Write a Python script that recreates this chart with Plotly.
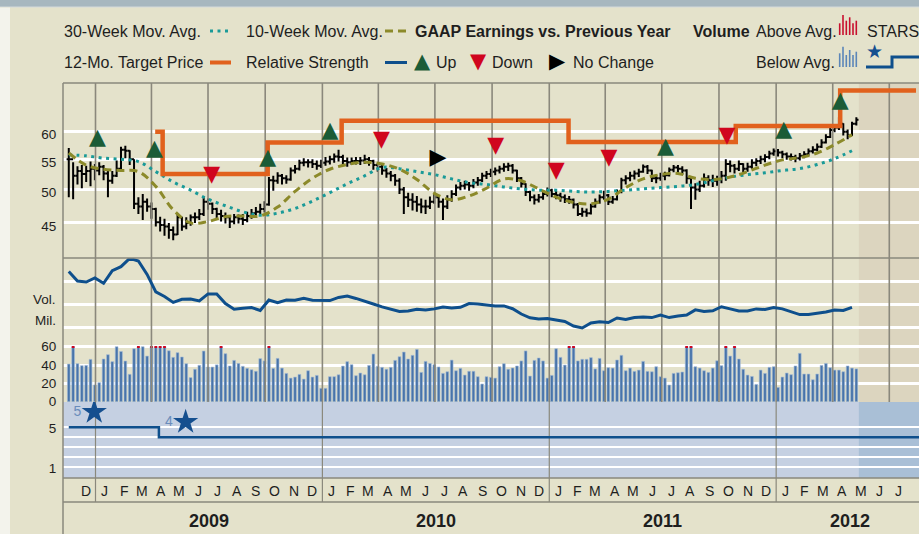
import plotly.graph_objects as go
import pandas as pd

W, H = 919, 534

# ---------------- data ----------------
week_start = "2008-11-19"
n_weeks = 182

close = [55.0, 52.2, 53.0, 52.5, 53.0, 53.4, 53.1, 53.7, 52.6, 51.4,
 52.2, 53.4, 56.7, 56.5, 55.0, 47.8, 47.4, 48.1, 47.4, 47.0,
 45.1, 44.7, 44.5, 44.0, 43.4, 45.8, 44.5, 45.0, 45.8, 45.8,
 46.3, 48.1, 47.8, 47.0, 46.3, 46.0, 45.8, 45.2, 45.8, 45.6,
 45.4, 46.0, 46.4, 46.6, 47.0, 47.7, 51.5, 51.4, 52.2, 51.8,
 51.6, 53.1, 53.4, 54.4, 54.5, 54.5, 54.2, 53.9, 54.4, 54.6,
 55.0, 55.5, 55.4, 54.7, 54.5, 54.7, 54.7, 54.8, 55.0, 54.7,
 54.0, 53.7, 53.1, 52.6, 52.2, 51.4, 50.0, 48.8, 48.4, 48.1,
 47.7, 47.4, 47.4, 48.1, 48.8, 48.1, 47.4, 48.4, 49.3, 50.3,
 50.6, 50.8, 50.6, 51.1, 51.5, 52.2, 52.5, 52.9, 53.1, 53.4,
 53.7, 53.9, 53.1, 51.8, 50.9, 49.6, 48.8, 48.4, 48.8, 49.3,
 49.9, 49.3, 49.1, 48.8, 48.5, 48.4, 47.7, 46.3, 46.6, 46.4,
 47.4, 48.1, 48.8, 49.1, 48.1, 48.5, 49.6, 51.5, 51.8, 52.2,
 52.6, 52.9, 53.7, 53.1, 51.8, 51.8, 52.2, 52.3, 53.2, 53.6,
 53.4, 53.1, 51.8, 50.3, 50.0, 50.6, 51.8, 51.5, 51.4, 51.6,
 52.2, 54.2, 53.9, 53.4, 54.2, 53.4, 53.7, 54.4, 54.7, 55.0,
 55.4, 56.0, 56.4, 56.2, 55.9, 55.5, 55.4, 55.2, 55.6, 55.9,
 56.4, 56.7, 57.2, 58.0, 59.0, 60.3, 60.8, 61.5, 60.0, 59.3,
 61.5, 62.3]

high = [57.0, 54.5, 53.8, 54.0, 53.9, 54.6, 54.2, 54.5, 54.0, 53.2,
 53.0, 54.8, 57.2, 57.4, 56.6, 55.0, 48.8, 49.3, 48.6, 48.0,
 47.2, 45.9, 45.6, 45.0, 44.5, 46.4, 45.9, 45.8, 46.2, 46.5,
 47.0, 48.8, 48.6, 48.0, 47.2, 46.9, 46.5, 46.0, 46.3, 46.2,
 46.3, 46.6, 47.0, 47.3, 47.8, 48.2, 52.0, 52.2, 52.8, 52.5,
 52.3, 53.6, 54.0, 54.9, 55.2, 55.0, 55.0, 54.8, 54.9, 55.4,
 55.6, 56.0, 56.7, 55.8, 55.3, 55.3, 55.4, 55.4, 55.8, 55.4,
 54.9, 54.4, 54.0, 53.5, 53.0, 52.5, 51.8, 50.4, 49.5, 49.4,
 49.0, 48.6, 48.4, 48.9, 49.5, 49.0, 48.6, 49.1, 49.9, 50.8,
 51.2, 51.4, 51.2, 51.7, 52.0, 52.7, 53.0, 53.4, 53.6, 53.9,
 54.3, 54.4, 54.2, 53.2, 52.0, 51.0, 49.8, 49.2, 49.3, 49.8,
 50.3, 50.1, 49.8, 49.5, 49.2, 49.0, 48.6, 47.9, 47.2, 47.1,
 47.8, 48.6, 49.2, 49.8, 49.3, 49.0, 50.0, 51.9, 52.3, 52.9,
 53.1, 53.4, 54.1, 54.0, 53.2, 52.4, 52.7, 52.9, 53.6, 54.0,
 54.0, 53.8, 53.3, 51.9, 51.0, 51.4, 52.6, 52.3, 52.4, 52.2,
 53.0, 55.0, 54.8, 54.2, 54.8, 54.3, 54.4, 55.0, 55.2, 55.6,
 55.9, 56.5, 56.9, 56.8, 56.5, 56.2, 56.0, 55.8, 56.1, 56.4,
 56.9, 57.3, 57.8, 58.6, 59.5, 60.8, 61.4, 62.8, 61.6, 60.4,
 61.9, 62.8]

low = [48.8, 48.5, 50.8, 50.2, 51.2, 50.5, 51.5, 52.3, 51.5, 48.8,
 50.9, 52.0, 53.0, 55.2, 54.0, 47.0, 46.3, 45.4, 46.6, 45.6,
 44.5, 43.8, 43.2, 42.8, 42.6, 43.3, 43.9, 44.1, 44.6, 45.0,
 45.4, 46.0, 46.9, 46.3, 45.6, 45.2, 44.9, 44.3, 44.8, 44.9,
 44.7, 45.1, 45.6, 45.9, 46.2, 46.5, 47.5, 49.8, 50.9, 50.8,
 50.9, 51.4, 52.6, 53.1, 53.8, 53.6, 53.5, 53.2, 53.5, 53.9,
 54.1, 54.4, 54.6, 53.9, 53.7, 54.0, 54.1, 54.0, 54.2, 53.9,
 53.2, 52.9, 52.4, 51.9, 51.3, 50.6, 49.3, 46.3, 47.3, 46.8,
 46.6, 46.4, 46.3, 47.0, 47.8, 47.2, 45.4, 47.0, 48.1, 49.0,
 49.9, 50.0, 49.8, 50.2, 50.6, 51.2, 51.7, 52.0, 52.3, 52.6,
 52.9, 53.0, 52.6, 51.2, 50.3, 49.0, 48.2, 47.7, 48.0, 48.4,
 48.9, 48.8, 48.5, 48.1, 47.9, 47.8, 47.1, 46.0, 45.9, 45.9,
 46.2, 47.2, 47.8, 48.4, 47.6, 47.8, 48.3, 49.4, 50.8, 51.3,
 51.6, 52.0, 52.7, 52.5, 51.2, 51.0, 51.4, 51.5, 52.1, 52.8,
 52.7, 52.4, 50.9, 47.0, 48.4, 49.6, 50.3, 50.6, 50.4, 50.6,
 51.0, 51.4, 52.8, 52.6, 53.0, 52.6, 52.9, 53.4, 53.8, 54.2,
 54.5, 55.0, 55.6, 55.5, 55.2, 54.9, 54.8, 54.5, 54.8, 55.2,
 55.6, 56.0, 56.4, 57.0, 57.8, 58.8, 59.9, 60.3, 59.3, 58.6,
 59.2, 61.2]

volume_mil = [41.1, 62, 41.5, 39.3, 39.6, 46.2, 18.3, 20.8, 46.6, 51.3,
 43.7, 60, 54.8, 44.4, 29.9, 57.8, 63, 60, 49.8, 65,
 64, 63, 66, 55.6, 48.4, 53.5, 48.8, 41.5, 26.3, 35.4,
 39.7, 55.3, 37.9, 37.8, 40.2, 61, 52.4, 39.0, 45.1, 41.8,
 38.6, 36.4, 34.9, 33.2, 47.0, 44.5, 61, 36.4, 47.3, 36.7,
 30.9, 25.8, 26.9, 29.8, 24.7, 33.8, 26.9, 28.7, 14.6, 14.6,
 27.3, 27.3, 29.4, 38.9, 43.7, 40.4, 28.4, 31.3, 29.4, 39.6,
 52.0, 38.6, 37.5, 35.4, 37.5, 45.1, 49.1, 54.2, 46.6, 50.6,
 57.1, 32.0, 44.0, 41.8, 40.4, 37.9, 30.9, 32.7, 45.4, 33.8,
 36.4, 29.1, 33.2, 33.2, 27.3, 19.3, 27.3, 26.6, 25.8, 38.2,
 41.5, 35.4, 36.8, 39.0, 44.5, 55.4, 28.0, 45.1, 47.7, 44.5,
 25.8, 28.7, 57.8, 48.4, 40.0, 63, 62, 44.5, 46.3, 46.3,
 48.1, 35.8, 47.3, 33.8, 37.1, 36.7, 45.5, 50.6, 33.8, 36.7,
 33.1, 34.5, 44.0, 33.1, 32.7, 38.2, 27.3, 25.8, 18.2, 30.9,
 31.6, 32.4, 63, 64, 38.2, 36.7, 33.8, 32.0, 36.7, 44.7,
 39.3, 66, 49.8, 62, 46.6, 35.4, 29.1, 27.6, 18.9, 34.5,
 30.9, 37.5, 38.2, 15.6, 26.9, 31.3, 29.5, 39.0, 52.8, 30.2,
 30.2, 24.0, 30.2, 39.6, 41.8, 37.1, 34.5, 34.5, 32.7, 39.0,
 36.7, 35.8]

# relative strength, sampled every 2 weeks
rel_strength = [106.1, 101.3, 100.8, 102.9, 100.2, 106.6, 108.6, 112.8, 111.5, 104.7,
 95.8, 93.5, 90.5, 92.1, 92.2, 91.2, 94.8, 94.8, 89.9, 87.0,
 87.5, 87.9, 86.4, 91.7, 90.4, 91.7, 91.6, 92.6, 91.6, 91.4,
 91.4, 93.0, 93.7, 92.5, 91.2, 89.7, 88.2, 87.2, 85.9, 86.1,
 87.0, 86.6, 87.2, 88.2, 87.7, 88.0, 89.9, 89.7, 89.2, 88.7,
 88.7, 87.3, 84.6, 82.7, 82.1, 82.3, 81.6, 80.8, 78.5, 77.5,
 80.1, 80.7, 80.3, 82.6, 81.8, 82.8, 83.1, 82.8, 84.1, 82.8,
 83.6, 84.1, 86.7, 85.9, 86.2, 88.3, 87.2, 86.1, 86.1, 87.2,
 86.9, 87.9, 87.2, 85.6, 84.3, 84.4, 84.9, 85.6, 86.6, 86.4,
 88.0]

# moving averages, sampled every 4 weeks
ma30 = [55.8, 55.6, 55.2, 55.0, 54.6, 52.9, 51.2, 49.9, 48.5, 47.5,
 46.6, 46.1, 46.4, 47.1, 48.2, 49.5, 50.9, 52.2, 53.6, 53.4,
 52.9, 52.4, 51.7, 51.1, 50.8, 50.4, 50.1, 49.9, 49.9, 49.7,
 49.6, 49.7, 49.9, 50.1, 50.3, 50.5, 50.8, 51.4, 52.0, 52.4,
 52.7, 53.1, 53.4, 54.1, 55.1, 56.5]
ma10 = [56.1, 54.0, 53.3, 53.1, 52.9, 50.5, 46.9, 45.0, 45.2, 45.9,
 46.0, 46.0, 47.3, 49.7, 51.8, 53.3, 54.1, 54.5, 54.2, 53.3,
 51.6, 49.4, 48.4, 49.0, 50.2, 51.7, 51.4, 50.1, 48.8, 48.0,
 47.8, 48.5, 50.3, 51.7, 52.4, 52.6, 51.8, 51.6, 52.0, 52.9,
 54.0, 54.9, 55.3, 56.1, 57.6, 59.4]

target_dates = ["2009-04-07", "2009-04-19", "2009-10-05", "2010-02-01",
                "2011-02-01", "2011-10-28", "2012-04-13", "2012-08-13"]
target_prices = [60.0, 52.5, 58.0, 62.1, 58.1, 61.1, 68.3, 68.3]

up_dates = ["2009-01-04", "2009-04-06", "2009-10-05", "2010-01-13",
            "2011-07-07", "2012-01-13", "2012-04-13"]
up_levels = [58.8, 56.7, 55.2, 60.1, 57.0, 60.2, 66.0]
down_dates = ["2009-07-07", "2010-04-06", "2010-10-07", "2011-01-12",
              "2011-04-07", "2011-10-14"]
down_levels = [52.2, 58.4, 57.3, 52.9, 55.2, 59.1]
nochange_dates = ["2010-07-06"]
nochange_levels = [55.2]

stars_dates = ["2008-11-19", "2009-04-13", "2012-08-17 19:00"]
stars_values = [5, 4, 4]
star_mark_dates = ["2008-12-30", "2009-05-26"]
star_mark_levels = [6.53, 5.53]
star_mark_labels = ["5", "4"]

price_ticks = [45, 50, 55, 60]
vol_ticks = [0, 20, 40, 60]
month_initials = ["J", "F", "M", "A", "M", "J", "J", "A", "S", "O", "N", "D"]
years = ["2009", "2010", "2011", "2012"]
year_label_dates = ["2009-07-02", "2010-07-02", "2011-07-02", "2012-04-28"]

# ---------------- styling ----------------
FONT = "Liberation Sans, Arial, Helvetica, sans-serif"
SYM = "DejaVu Sans"
BG = "#E4E2CB"
FUT = "#DCD5BF"
STARBG = "#C5D0E2"
STARFUT = "#A9BFD6"
VLINE = "#8A887C"
TXT = "#1E1E1E"
ORANGE = "#E1611D"
RSBLUE = "#0E4F8C"
TEAL = "#1A9A98"
OLIVE = "#8C8A2A"
GREEN = "#1B5C37"
RED = "#D0051E"
VBLUE = "#4874AA"
VEDGE = "#A4BCD8"

X_LEFT = "2008-11-09 17:00"
X_RIGHT = "2012-08-17 19:00"
FUTURE_START = "2012-05-13"

dates = pd.date_range(week_start, periods=n_weeks, freq="7D")
open_ = [close[0]] + close[:-1]


def PX(x):
    return x / W


def PY(y):
    return 1 - y / H


fig = go.Figure()

# vertical quarter lines (price + volume panels), yearly lines (stars panel)
q_dates = pd.date_range("2009-01-01", "2012-07-01", freq="QS")
y_dates = pd.date_range("2009-01-01", "2012-01-01", freq="YS")


def vlines(ds, y0, y1):
    xs, ys = [], []
    for d in ds:
        xs += [d, d, None]
        ys += [y0, y1, None]
    return xs, ys


xs, ys = vlines(q_dates, 20, 100)
fig.add_trace(go.Scatter(x=xs, y=ys, mode="lines", yaxis="y",
                         line=dict(color=VLINE, width=1.6), hoverinfo="skip"))
xs, ys = vlines(q_dates, -50, 300)
fig.add_trace(go.Scatter(x=xs, y=ys, mode="lines", yaxis="y2",
                         line=dict(color=VLINE, width=1.6), hoverinfo="skip"))
xs, ys = vlines(y_dates, -5, 20)
fig.add_trace(go.Scatter(x=xs, y=ys, mode="lines", yaxis="y3",
                         line=dict(color=VLINE, width=1.2), hoverinfo="skip"))

# moving averages
fig.add_trace(go.Scatter(x=dates[::4], y=ma30, mode="lines", yaxis="y",
                         line=dict(color=TEAL, width=3, dash="3px,4.5px", shape="spline"),
                         hoverinfo="skip"))
fig.add_trace(go.Scatter(x=dates[::4], y=ma10, mode="lines", yaxis="y",
                         line=dict(color=OLIVE, width=3, dash="8px,5px", shape="spline"),
                         hoverinfo="skip"))

# target price
fig.add_trace(go.Scatter(x=target_dates, y=target_prices, mode="lines", yaxis="y",
                         line=dict(color=ORANGE, width=4.5, shape="hv"), hoverinfo="skip"))

# price bars
fig.add_trace(go.Ohlc(x=dates, open=open_, high=high, low=low, close=close,
                      yaxis="y", tickwidth=0.5,
                      increasing=dict(line=dict(color="black", width=2)),
                      decreasing=dict(line=dict(color="black", width=2)),
                      hoverinfo="skip"))

# GAAP earnings markers
fig.add_trace(go.Scatter(x=up_dates, y=up_levels, mode="text", yaxis="y",
                         text=["▲"] * len(up_dates), textposition="middle center",
                         textfont=dict(family=SYM, size=22, color=GREEN), hoverinfo="skip"))
fig.add_trace(go.Scatter(x=down_dates, y=down_levels, mode="text", yaxis="y",
                         text=["▼"] * len(down_dates), textposition="middle center",
                         textfont=dict(family=SYM, size=22, color=RED), hoverinfo="skip"))
fig.add_trace(go.Scatter(x=nochange_dates, y=nochange_levels, mode="text", yaxis="y",
                         text=["▶"] * len(nochange_dates), textposition="middle center",
                         textfont=dict(family=SYM, size=22, color="black"), hoverinfo="skip"))

# volume
BAR_MS = 4.4 * 86400000
vol_shown = [min(v, 60) for v in volume_mil]
fig.add_trace(go.Bar(x=dates, y=vol_shown, yaxis="y2", width=BAR_MS,
                     marker=dict(color=VBLUE, line=dict(color=VEDGE, width=0.6)),
                     hoverinfo="skip"))
over_dates = [d for d, v in zip(dates, volume_mil) if v > 60]
fig.add_trace(go.Bar(x=over_dates, y=[1.8] * len(over_dates), base=[58.7] * len(over_dates),
                     yaxis="y2", width=BAR_MS, marker=dict(color=RED, line=dict(width=0)),
                     hoverinfo="skip"))

# relative strength
fig.add_trace(go.Scatter(x=dates[::2], y=rel_strength, mode="lines", yaxis="y4",
                         line=dict(color=RSBLUE, width=3), hoverinfo="skip"))

# STARS
fig.add_trace(go.Scatter(x=stars_dates, y=stars_values, mode="lines", yaxis="y3",
                         line=dict(color=RSBLUE, width=2.5, shape="hv"), hoverinfo="skip"))
fig.add_trace(go.Scatter(x=star_mark_dates, y=star_mark_levels, mode="markers+text", yaxis="y3",
                         marker=dict(symbol="star", size=19, color="#154F8F"),
                         text=star_mark_labels, textposition="middle left",
                         textfont=dict(family=FONT, size=14, color="#6A8CBB"),
                         hoverinfo="skip"))

# ---------------- layout ----------------
tickfont = dict(family=FONT, size=13.5, color=TXT)
fig.update_layout(
    width=W, height=H, margin=dict(l=0, r=0, t=0, b=0, pad=0, autoexpand=False),
    paper_bgcolor=BG, plot_bgcolor="rgba(0,0,0,0)", showlegend=False,
    barmode="overlay",
    xaxis=dict(domain=[PX(63), 1], type="date", range=[X_LEFT, X_RIGHT],
               showgrid=False, zeroline=False, showticklabels=False, ticks="",
               showline=False, rangeslider=dict(visible=False), anchor="y3"),
    yaxis=dict(domain=[PY(258), PY(83)], type="log", anchor="x",
               range=[1.60514, 1.84486], tickvals=price_ticks,
               ticktext=[str(v) for v in price_ticks],
               gridcolor="white", gridwidth=3, zeroline=False, showline=False,
               ticks="outside", ticklen=3, tickcolor="rgba(0,0,0,0)", tickfont=tickfont,
               ticklabelshift=3),
    yaxis2=dict(domain=[PY(402), PY(258)], anchor="x", range=[-0.3, 156.8],
                tickvals=vol_ticks + [80.7, 106.3, 130.9],
                ticktext=[str(v) for v in vol_ticks] + ["", "", ""],
                gridcolor="white", gridwidth=2.5, zeroline=False, showline=False,
                ticks="outside", ticklen=3, tickcolor="rgba(0,0,0,0)", tickfont=tickfont),
    yaxis4=dict(overlaying="y2", anchor="x", range=[40, 113], visible=False),
    yaxis3=dict(domain=[PY(478), PY(402)], anchor="x", range=[-0.07, 7.53],
                tickvals=[1, 2, 3, 4, 5], ticktext=["1", "", "", "", "5"],
                gridcolor="white", gridwidth=1.5, zeroline=False, showline=False,
                ticks="outside", ticklen=3, tickcolor="rgba(0,0,0,0)", tickfont=tickfont,
                ticklabelshift=1),
)

shapes = []
# backgrounds
shapes.append(dict(type="rect", xref="paper", yref="paper", x0=0, x1=1, y0=PY(7), y1=1,
                   fillcolor="#A7B7BF", line=dict(width=0), layer="below"))
shapes.append(dict(type="line", xref="paper", yref="paper", x0=0, x1=1, y0=PY(7), y1=PY(7),
                   line=dict(color="#D3DADB", width=1.2), layer="below"))
shapes.append(dict(type="rect", xref="paper", yref="paper", x0=0, x1=PX(10), y0=0, y1=PY(7.5),
                   fillcolor="#F3F3EC", line=dict(width=0), layer="below"))
shapes.append(dict(type="rect", xref="x", yref="paper", x0=FUTURE_START, x1=X_RIGHT,
                   y0=PY(402), y1=PY(83), fillcolor=FUT, line=dict(width=0), layer="below"))
shapes.append(dict(type="rect", xref="paper", yref="paper", x0=PX(63), x1=1,
                   y0=PY(478), y1=PY(402), fillcolor=STARBG, line=dict(width=0), layer="below"))
shapes.append(dict(type="rect", xref="x", yref="paper", x0=FUTURE_START, x1=X_RIGHT,
                   y0=PY(478), y1=PY(402), fillcolor=STARFUT, line=dict(width=0), layer="below"))
# borders
for yy in (83, 258, 478, 502):
    shapes.append(dict(type="line", xref="paper", yref="paper", x0=PX(63), x1=1,
                       y0=PY(yy), y1=PY(yy), line=dict(color=VLINE, width=1.5)))
shapes.append(dict(type="line", xref="paper", yref="paper", x0=PX(63), x1=PX(63),
                   y0=0, y1=PY(83), line=dict(color=VLINE, width=1.5)))
for d in y_dates:
    shapes.append(dict(type="line", xref="x", yref="paper", x0=d, x1=d,
                       y0=PY(502), y1=PY(478), line=dict(color=VLINE, width=1.2)))

# legend icons
shapes.append(dict(type="line", xref="paper", yref="paper", x0=PX(210), x1=PX(231),
                   y0=PY(31), y1=PY(31), line=dict(color=TEAL, width=3, dash="3px,4.5px")))
shapes.append(dict(type="line", xref="paper", yref="paper", x0=PX(385), x1=PX(408),
                   y0=PY(31), y1=PY(31), line=dict(color=OLIVE, width=3, dash="8px,5px")))
shapes.append(dict(type="line", xref="paper", yref="paper", x0=PX(210), x1=PX(231),
                   y0=PY(62.5), y1=PY(62.5), line=dict(color=ORANGE, width=4)))
shapes.append(dict(type="line", xref="paper", yref="paper", x0=PX(385), x1=PX(407),
                   y0=PY(62.5), y1=PY(62.5), line=dict(color=RSBLUE, width=3)))
for bx, top in zip([839.7, 843, 846.3, 849.7, 853, 856.3], [23.3, 15, 20.7, 17.3, 23.3, 20.7]):
    shapes.append(dict(type="rect", xref="paper", yref="paper", x0=PX(bx - 0.8), x1=PX(bx + 0.8),
                       y0=PY(35), y1=PY(top), fillcolor="#C8102E", line=dict(width=0)))
for bx, top in zip([839.7, 843, 846.3, 849.7, 853, 856.3], [53.3, 46.7, 55, 50, 55, 51.7]):
    shapes.append(dict(type="rect", xref="paper", yref="paper", x0=PX(bx - 0.8), x1=PX(bx + 0.8),
                       y0=PY(67), y1=PY(top), fillcolor="#5B86B8", line=dict(width=0)))
shapes.append(dict(type="path", xref="paper", yref="paper",
                   path=f"M{PX(866)},{PY(67)} L{PX(892)},{PY(67)} L{PX(892)},{PY(57)} L{PX(919)},{PY(57)}",
                   line=dict(color=RSBLUE, width=3)))
fig.update_layout(shapes=shapes)

ann = []


def text(t, x, y, size=16, color=TXT, xanchor="left", family=FONT, xref="paper"):
    ann.append(dict(text=t, x=x, y=y, xref=xref, yref="paper", showarrow=False,
                    xanchor=xanchor, yanchor="middle",
                    font=dict(family=family, size=size, color=color)))


# legend texts
text("30-Week Mov. Avg.", PX(62), PY(31))
text("10-Week Mov. Avg.", PX(244), PY(31))
text("<b>GAAP Earnings vs. Previous Year</b>", PX(413), PY(31))
text("<b>Volume</b>", PX(691), PY(31))
text("Above Avg.", PX(754), PY(31))
text("STARS", PX(865), PY(31))
text("12-Mo. Target Price", PX(62), PY(62.5))
text("Relative Strength", PX(244), PY(62.5))
text("▲", PX(422), PY(61), size=21, color=GREEN, xanchor="center", family=SYM)
text("Up", PX(434), PY(62.5))
text("▼", PX(478), PY(61), size=21, color=RED, xanchor="center", family=SYM)
text("Down", PX(490), PY(62.5))
text("▶", PX(557.5), PY(61), size=21, color="black", xanchor="center", family=SYM)
text("No Change", PX(571), PY(62.5))
text("Below Avg.", PX(754), PY(62.5))
text("★", PX(874), PY(51), size=19, color="#154F8F", xanchor="center", family=SYM)

# panel labels
text("Vol.", PX(58), PY(299), size=13.5, xanchor="right")
text("Mil.", PX(58), PY(320), size=13.5, xanchor="right")

# months
months = pd.date_range("2008-12-01", "2012-07-01", freq="MS")
for m in months:
    text(month_initials[m.month - 1], m + pd.Timedelta(days=15), PY(491), size=14,
         xanchor="center", xref="x")
for yl, yd in zip(years, year_label_dates):
    text(f"<b>{yl}</b>", yd, PY(521), size=18, xanchor="center", xref="x")

fig.update_layout(annotations=ann)

fig.write_html("out.html")
